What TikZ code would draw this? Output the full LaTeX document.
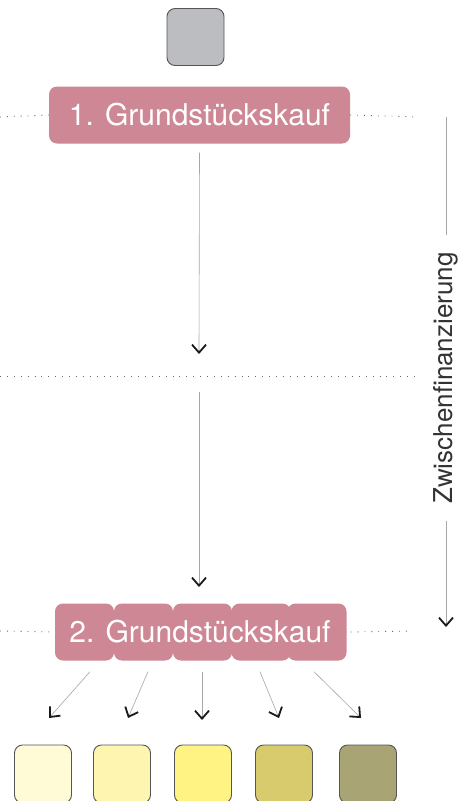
\documentclass[tikz,border=0pt]{standalone}
\usepackage{fontspec}
\setmainfont{TeX Gyre Heros}
\usepackage{xcolor}
\definecolor{phaserose}{RGB}{206, 135, 148}
\definecolor{startgray}{RGB}{188, 189, 193}
\definecolor{edgegray}{RGB}{85, 85, 85}
\definecolor{lotone}{RGB}{255, 251, 214}
\definecolor{lottwo}{RGB}{254, 246, 176}
\definecolor{lotthree}{RGB}{254, 243, 131}
\definecolor{lotfour}{RGB}{216, 203, 110}
\definecolor{lotfive}{RGB}{168, 164, 116}
\usetikzlibrary{arrows.meta, positioning}

\tikzset{
    tile/.style={draw=edgegray, line width=0.9pt, rounded corners=8pt, minimum width=57pt, minimum height=57pt, inner sep=0pt},
    phase/.style={fill=phaserose, rounded corners=8pt, minimum height=57pt, inner sep=0pt},
    flow/.style={gray!70, line width=0.6pt, -{Straight Barb[length=8pt, width=14pt, line width=1.8pt, color=black!90]}},
    divider/.style={gray!80!black, line width=0.9pt, dash pattern=on 0.9pt off 6pt}
}

\begin{document}
\begin{tikzpicture}[x=1pt, y=-1pt]
    \useasboundingbox[fill=white] (0,0) rectangle (466,801);

    % start
    \node[tile, fill=startgray] (start) at (195.5,37) {};

    % first purchase
    \node[phase, minimum width=301pt] (buy1) at (199.5,115) {};
    \node[text=white, font=\fontsize{30}{34}\selectfont] (buy1text) at (buy1) {1. Grundstückskauf};
    \draw[divider] (0,117) -- (buy1.west);
    \draw[divider] (buy1.east) -- (418,117);

    % interim cut
    \coordinate (cutL) at (0,376);
    \coordinate (cutR) at (418,376);
    \draw[divider] (cutL) -- (cutR);
    \coordinate (arr1) at (199,354);
    \coordinate (dep2) at (199,392);
    \coordinate (arr2) at (199,587);
    \draw[flow] ([yshift=-9pt]buy1.south) -- (arr1);
    \draw[flow] (dep2) -- (arr2);

    % second purchase, split into lots
    \foreach \i/\x in {1/84.5, 2/143.5, 3/202.5, 4/261, 5/317} {
        \node[phase, minimum width=59pt] (lot\i) at (\x,632) {};
    }
    \node[text=white, font=\fontsize{30}{34}\selectfont] (buy2text) at (200,632) {2. Grundstückskauf};
    \draw[divider] (0,631) -- (lot1.west);
    \draw[divider] ([xshift=4pt]lot5.east) -- (412,631);

    % interim financing
    \node[rotate=90, font=\fontsize{26}{30}\selectfont, text=black!80] (fin) at (446,378) {Zwischenfinanzierung};
    \draw[gray!70, line width=0.6pt] (446,117) -- ([yshift=14pt]fin.east);
    \draw[flow] ([yshift=-14pt]fin.west) -- (446,627);

    % resulting plots
    \foreach \i/\x/\c in {1/43/lotone, 2/122/lottwo, 3/203/lotthree, 4/284/lotfour, 5/368/lotfive} {
        \node[tile, fill=\c, minimum height=58pt] (plot\i) at (\x,774) {};
    }
    \coordinate (tip1) at (49,718);
    \coordinate (tip2) at (128,718);
    \coordinate (tip3) at (202,720);
    \coordinate (tip4) at (279,718);
    \coordinate (tip5) at (361,718);
    \draw[flow] ([xshift=5.5pt, yshift=-11pt]lot1.south) -- (tip1);
    \draw[flow] ([xshift=4.5pt, yshift=-11pt]lot2.south) -- (tip2);
    \draw[flow] ([xshift=-0.5pt, yshift=-11pt]lot3.south) -- (tip3);
    \draw[flow] ([xshift=-1pt, yshift=-11pt]lot4.south) -- (tip4);
    \draw[flow] ([xshift=-3pt, yshift=-11pt]lot5.south) -- (tip5);
\end{tikzpicture}
\end{document}
